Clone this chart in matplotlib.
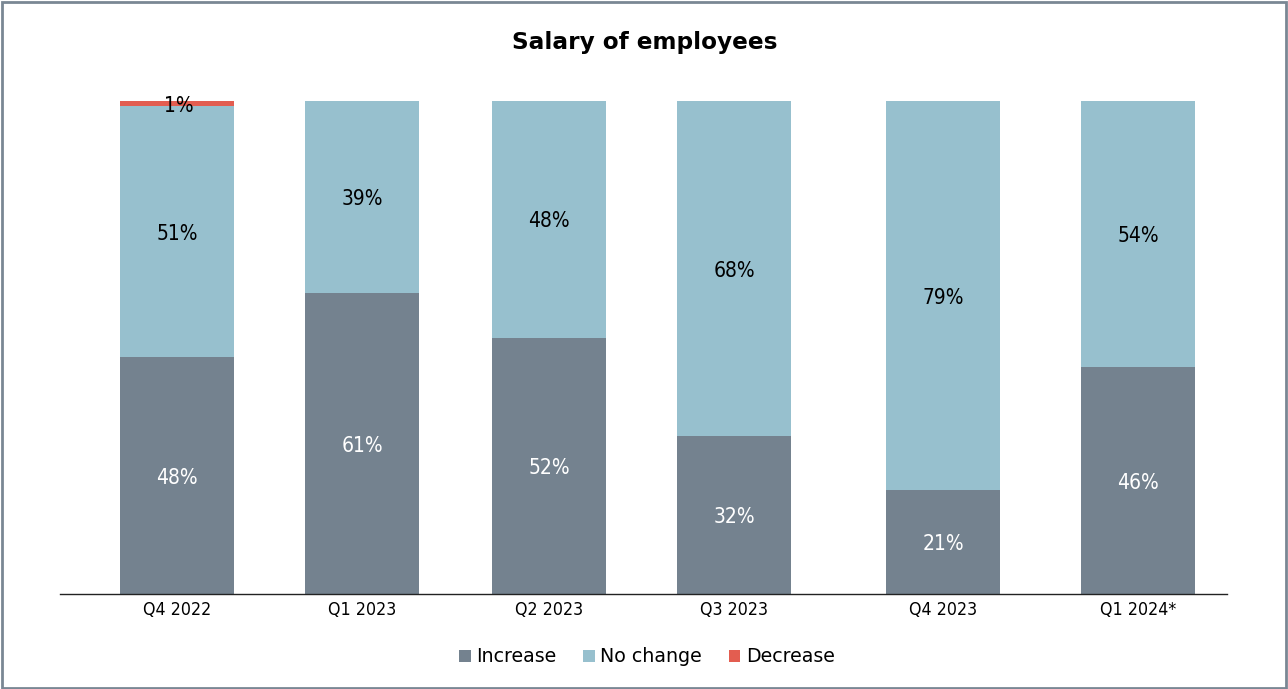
import matplotlib
matplotlib.use("Agg")
import matplotlib.pyplot as plt
from matplotlib.patches import Rectangle

categories = ["Q4 2022", "Q1 2023", "Q2 2023", "Q3 2023", "Q4 2023", "Q1 2024*"]
increase = [48, 61, 52, 32, 21, 46]
no_change = [51, 39, 48, 68, 79, 54]
decrease = [1, 0, 0, 0, 0, 0]

# layout (pixel-like positions of bar centres)
xpos = [177, 362, 549, 734, 943, 1138]
bar_w = 114

c_inc = "#74828f"
c_nc = "#97c0ce"
c_dec = "#e35d50"

W, H = 1288, 689
fig = plt.figure(figsize=(W / 100, H / 100), dpi=100)
ax = fig.add_axes([60 / W, (H - 594) / H, (1227 - 60) / W, 493 / H])

ax.bar(xpos, increase, width=bar_w, color=c_inc, label="Increase")
ax.bar(xpos, no_change, width=bar_w, bottom=increase, color=c_nc, label="No change")
bottom2 = [a + b for a, b in zip(increase, no_change)]
ax.bar(xpos, decrease, width=bar_w, bottom=bottom2, color=c_dec, label="Decrease")

lab_font = dict(family="DejaVu Sans", stretch="condensed", fontsize=15)
for x, a, b, d, b2 in zip(xpos, increase, no_change, decrease, bottom2):
    if a:
        ax.text(x, a / 2, f"{a}%", ha="center", va="center_baseline", color="white", **lab_font)
    if b:
        ax.text(x, a + b / 2, f"{b}%", ha="center", va="center_baseline", color="black", **lab_font)
    if d:
        ax.text(x + 2, b2 + d / 2 - 0.2, f"{d}%", ha="center", va="center_baseline", color="black", **lab_font)

ax.set_xlim(60, 1227)
ax.set_ylim(0, 100)
ax.set_xticks(xpos)
ax.set_xticklabels(categories, family="DejaVu Sans", stretch="condensed", fontsize=12.8)
ax.tick_params(axis="x", length=0, pad=5)
ax.set_yticks([])
for s in ["left", "right", "top"]:
    ax.spines[s].set_visible(False)
ax.spines["bottom"].set_color("#222222")
ax.spines["bottom"].set_linewidth(1.0)

fig.text(645 / W, 1 - 43 / H, "Salary of employees", ha="center", va="center",
         fontsize=16.7, fontweight="bold", family="DejaVu Sans")

leg = fig.legend(loc="center", bbox_to_anchor=(647 / W, 1 - 657 / H), ncol=3, frameon=False,
                 fontsize=13.7, handlelength=0.6, handleheight=0.6, handletextpad=0.3,
                 columnspacing=1.4)

fig.patches.append(Rectangle((0.0015, 0.002), 0.997, 0.995, transform=fig.transFigure,
                             fill=False, edgecolor="#7a8794", linewidth=2))

fig.savefig("out.png", dpi=100)
